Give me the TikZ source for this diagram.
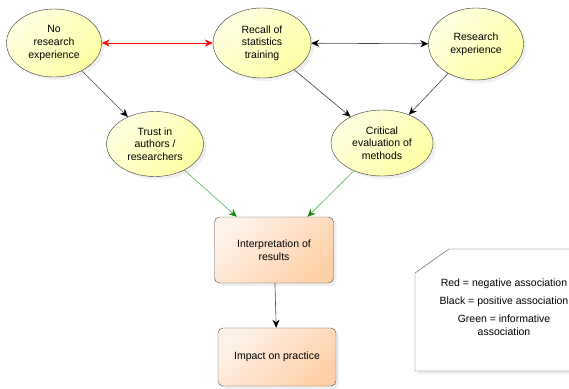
\documentclass[tikz,border=0pt]{standalone}
\usepackage{fontspec}
\setmainfont{Liberation Sans}
\usetikzlibrary{shapes.geometric, shadows, arrows.meta}
\tikzset{>={Stealth[length=8pt, width=7pt]}}
\definecolor{idealight}{RGB}{255,255,225}
\definecolor{ideadark}{RGB}{255,255,165}
\definecolor{stagelight}{RGB}{254,242,232}
\definecolor{stagedark}{RGB}{255,208,168}
\definecolor{linegrey}{RGB}{70,70,70}
\definecolor{infogreen}{RGB}{90,180,90}
\definecolor{tipgreen}{RGB}{20,130,20}

\begin{document}
\begin{tikzpicture}[x=1pt, y=-1pt, font=\fontsize{10.5}{12.7}\selectfont,
  softshadow/.style={drop shadow={opacity=0.12, shadow xshift=3pt, shadow yshift=-3pt}},
  idea/.style={ellipse, draw=black!80, softshadow, top color=idealight, bottom color=ideadark,
    shading angle=45, minimum width=95pt, minimum height=68pt, inner sep=0pt, align=center},
  stage/.style={rectangle, rounded corners=5pt, draw=black!70, softshadow, top color=stagelight,
    bottom color=stagedark, shading angle=45, minimum width=119pt, minimum height=66pt, align=center},
  posassoc/.style={<->, draw=linegrey, semithick, >={Stealth[length=8pt, width=7pt, black]}},
  cause/.style={->, draw=linegrey, semithick, >={Stealth[length=8pt, width=7pt, black]}},
  negassoc/.style={<->, draw=red, thick},
  infoassoc/.style={->, draw=infogreen, semithick, >={Stealth[length=8pt, width=7pt, tipgreen]}}]
     \useasboundingbox (0,0) rectangle (569,388);
     % ideas
     \node[idea] (noresearch) at (54,43) {No\\research\\experience};
     \node[idea, minimum width=98pt, minimum height=70pt] (recall) at (262,43) {Recall of\\statistics\\training};
     \node[idea, minimum height=72pt] (research) at (476,44) {Research\\experience};
     \node[idea, minimum width=97pt, minimum height=65pt] (trust) at (155,144) {Trust in\\authors /\\researchers};
     \node[idea, minimum width=102pt, minimum height=66pt] (critical) at (382,143) {Critical\\evaluation of\\methods};
     % stages
     \node[stage] (interp) at (274,250) {Interpretation of\\results};
     \node[stage, minimum width=118pt, minimum height=58pt] (impact) at (277,357) {Impact on practice};
     % associations
     \draw[negassoc] (noresearch) -- (recall);
     \draw[posassoc] (recall) -- (research);
     \draw[cause] (noresearch) -- (trust);
     \draw[cause] (recall) -- (critical);
     \draw[cause] (research) -- (critical);
     \draw[infoassoc] (trust) -- (interp);
     \draw[infoassoc] (critical) -- (interp);
     \draw[cause] (interp) -- (impact);
     % legend
     \draw[black!70, fill=white, softshadow] (415,273) -- (449,249) -- (590,249) -- (590,371) -- (415,371) -- cycle;
     \node (legred) at (504,284) {Red = negative association};
     \node (legblack) at (504,302) {Black = positive association};
     \node[align=center] (leggreen) at (504,325) {Green = informative\\association};
\end{tikzpicture}
\end{document}
